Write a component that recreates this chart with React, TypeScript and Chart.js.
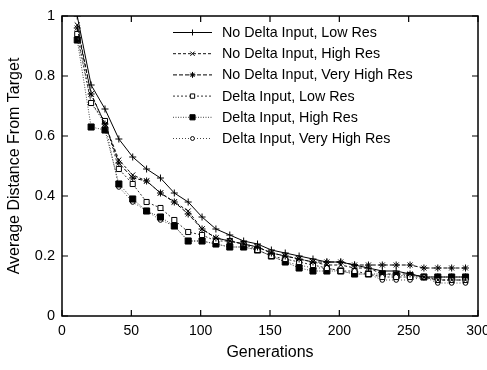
import React, { useEffect, useRef } from 'react';
import { Chart, registerables } from 'chart.js';

Chart.register(...registerables);

const generations = [11, 21, 31, 41, 51, 61, 71, 81, 91, 101, 111, 121, 131, 141, 151, 161, 171, 181, 191, 201, 211, 221, 231, 241, 251, 261, 271, 281, 291];

const noDeltaLow = [1.0, 0.77, 0.69, 0.59, 0.53, 0.49, 0.46, 0.41, 0.38, 0.33, 0.29, 0.27, 0.25, 0.24, 0.22, 0.21, 0.20, 0.19, 0.18, 0.18, 0.17, 0.16, 0.15, 0.15, 0.14, 0.13, 0.13, 0.13, 0.13];
const noDeltaHigh = [0.97, 0.74, 0.64, 0.52, 0.47, 0.45, 0.41, 0.38, 0.35, 0.29, 0.26, 0.25, 0.24, 0.23, 0.21, 0.20, 0.19, 0.18, 0.17, 0.17, 0.16, 0.16, 0.14, 0.14, 0.14, 0.13, 0.12, 0.12, 0.12];
const noDeltaVeryHigh = [0.96, 0.74, 0.64, 0.51, 0.46, 0.45, 0.41, 0.38, 0.34, 0.29, 0.26, 0.25, 0.24, 0.23, 0.21, 0.20, 0.19, 0.18, 0.18, 0.18, 0.17, 0.17, 0.17, 0.17, 0.17, 0.16, 0.16, 0.16, 0.16];
const deltaLow = [0.94, 0.71, 0.65, 0.49, 0.44, 0.38, 0.36, 0.32, 0.28, 0.27, 0.25, 0.25, 0.24, 0.22, 0.20, 0.19, 0.18, 0.17, 0.16, 0.15, 0.15, 0.14, 0.13, 0.13, 0.13, 0.13, 0.12, 0.12, 0.12];
const deltaHigh = [0.92, 0.63, 0.62, 0.44, 0.39, 0.35, 0.33, 0.30, 0.25, 0.25, 0.24, 0.23, 0.23, 0.22, 0.20, 0.18, 0.16, 0.15, 0.15, 0.15, 0.14, 0.14, 0.14, 0.135, 0.135, 0.13, 0.13, 0.13, 0.13];
const deltaVeryHigh = [0.93, 0.71, 0.64, 0.43, 0.38, 0.35, 0.32, 0.30, 0.25, 0.25, 0.24, 0.23, 0.23, 0.22, 0.20, 0.18, 0.17, 0.16, 0.16, 0.15, 0.14, 0.14, 0.12, 0.12, 0.12, 0.13, 0.11, 0.11, 0.11];

const seriesNames = [
  'No Delta Input, Low Res',
  'No Delta Input, High Res',
  'No Delta Input, Very High Res',
  'Delta Input, Low Res',
  'Delta Input, High Res',
  'Delta Input, Very High Res',
];
const seriesValues = [noDeltaLow, noDeltaHigh, noDeltaVeryHigh, deltaLow, deltaHigh, deltaVeryHigh];

const xTitle = 'Generations';
const yTitle = 'Average Distance From Target';

const FONT = '"Liberation Sans", Arial, Helvetica, sans-serif';

const looks = [
  { dash: [] as number[], color: '#000', point: 'cross', r: 3.5, fill: '#000' },
  { dash: [3, 2], color: '#111', point: 'crossRot', r: 3.6, fill: '#000' },
  { dash: [4, 2], color: '#000', point: 'star', r: 3.5, fill: '#000' },
  { dash: [2, 2], color: '#333', point: 'rect', r: 3.6, fill: '#fff' },
  { dash: [1, 1.5], color: '#444', point: 'rect', r: 4.3, fill: '#000' },
  { dash: [1, 2], color: '#444', point: 'circle', r: 2.3, fill: '#fff' },
];

function drawMarker(ctx: CanvasRenderingContext2D, kind: string, x: number, y: number, r: number, fill: string) {
  ctx.save();
  ctx.setLineDash([]);
  ctx.lineWidth = 1;
  ctx.strokeStyle = '#000';
  ctx.fillStyle = fill;
  ctx.beginPath();
  if (kind === 'cross' || kind === 'star') {
    ctx.moveTo(x - r, y); ctx.lineTo(x + r, y);
    ctx.moveTo(x, y - r); ctx.lineTo(x, y + r);
  }
  if (kind === 'crossRot' || kind === 'star') {
    const d = r * Math.SQRT1_2;
    ctx.moveTo(x - d, y - d); ctx.lineTo(x + d, y + d);
    ctx.moveTo(x - d, y + d); ctx.lineTo(x + d, y - d);
  }
  if (kind === 'rect') {
    const s = r * Math.SQRT1_2;
    ctx.rect(x - s, y - s, 2 * s, 2 * s);
    ctx.fill();
  }
  if (kind === 'circle') {
    ctx.arc(x, y, r, 0, Math.PI * 2);
    ctx.fill();
  }
  ctx.stroke();
  ctx.restore();
}

const framePlugin = {
  id: 'frame',
  afterDraw(chart: any) {
    const { ctx, chartArea } = chart;
    const { left, right, top, bottom } = chartArea;
    const xs = chart.scales.x;
    const ys = chart.scales.y;
    ctx.save();
    ctx.strokeStyle = '#000';
    ctx.lineWidth = 1.5;
    ctx.setLineDash([]);
    ctx.strokeRect(left, top, right - left, bottom - top);
    const tl = 6;
    ctx.lineWidth = 1.2;
    ctx.beginPath();
    xs.ticks.forEach((t: any) => {
      const px = xs.getPixelForValue(t.value);
      ctx.moveTo(px, bottom); ctx.lineTo(px, bottom - tl);
      ctx.moveTo(px, top); ctx.lineTo(px, top + tl);
    });
    ys.ticks.forEach((t: any) => {
      const py = ys.getPixelForValue(t.value);
      ctx.moveTo(left, py); ctx.lineTo(left + tl, py);
      ctx.moveTo(right, py); ctx.lineTo(right - tl, py);
    });
    ctx.stroke();

    // legend
    const lx0 = 173, lx1 = 212, tx = 222;
    const y0 = 32.5, dy = 21.2;
    ctx.font = `14.3px ${FONT}`;
    ctx.textBaseline = 'middle';
    ctx.textAlign = 'left';
    seriesNames.forEach((name, i) => {
      const lk = looks[i];
      const y = y0 + i * dy;
      ctx.save();
      ctx.strokeStyle = lk.color;
      ctx.lineWidth = 1;
      ctx.setLineDash(lk.dash);
      ctx.beginPath();
      ctx.moveTo(lx0, y); ctx.lineTo(lx1, y);
      ctx.stroke();
      ctx.restore();
      drawMarker(ctx, lk.point, (lx0 + lx1) / 2, y, lk.r * 0.85, lk.fill);
      ctx.fillStyle = '#000';
      ctx.fillText(name, tx, y + 0.5);
    });
    ctx.restore();
  },
};

export default function App() {
  const ref = useRef<HTMLCanvasElement>(null);
  useEffect(() => {
    document.body.style.margin = '0';
    const canvas = ref.current!;
    const chart = new Chart(canvas, {
      type: 'line',
      data: {
        datasets: seriesValues.map((vals, i) => ({
          label: seriesNames[i],
          data: vals.map((v, j) => ({ x: generations[j], y: v })),
          borderColor: looks[i].color,
          borderWidth: 1,
          borderDash: looks[i].dash,
          pointStyle: looks[i].point as any,
          pointRadius: looks[i].r,
          pointBackgroundColor: looks[i].fill,
          pointBorderColor: '#000',
          pointBorderWidth: 1,
          tension: 0,
          fill: false,
        })),
      },
      options: {
        responsive: false,
        animation: false,
        layout: { padding: { left: 0, top: 16, right: 9, bottom: 0 } },
        plugins: { legend: { display: false }, tooltip: { enabled: false } },
        scales: {
          x: {
            type: 'linear',
            min: 0,
            max: 300,
            grid: { display: false, drawTicks: false },
            border: { display: false },
            ticks: { stepSize: 50, color: '#000', font: { family: FONT, size: 14 }, padding: 7, maxRotation: 0 },
            title: { display: true, text: xTitle, color: '#000', font: { family: FONT, size: 16 }, padding: { top: 7.5, bottom: 7.5 } },
            afterFit: (s: any) => { s.height = 54; s.paddingLeft = 0; s.paddingRight = 0; },
          },
          y: {
            type: 'linear',
            min: 0,
            max: 1,
            grid: { display: false, drawTicks: false },
            border: { display: false },
            ticks: {
              stepSize: 0.2,
              color: '#000',
              font: { family: FONT, size: 14.5 },
              padding: 7,
              callback: (v: any) => String(Math.round(Number(v) * 10) / 10),
            },
            title: { display: true, text: yTitle, color: '#000', font: { family: FONT, size: 16 }, padding: { top: 5, bottom: 5 } },
            afterFit: (s: any) => { s.width = 62; s.paddingTop = 0; s.paddingBottom = 0; },
          },
        },
      },
      plugins: [framePlugin],
    });
    return () => chart.destroy();
  }, []);
  return (
    <div style={{ width: 487, height: 370 }}>
      <canvas ref={ref} width={487} height={370} style={{ display: 'block' }} />
    </div>
  );
}
